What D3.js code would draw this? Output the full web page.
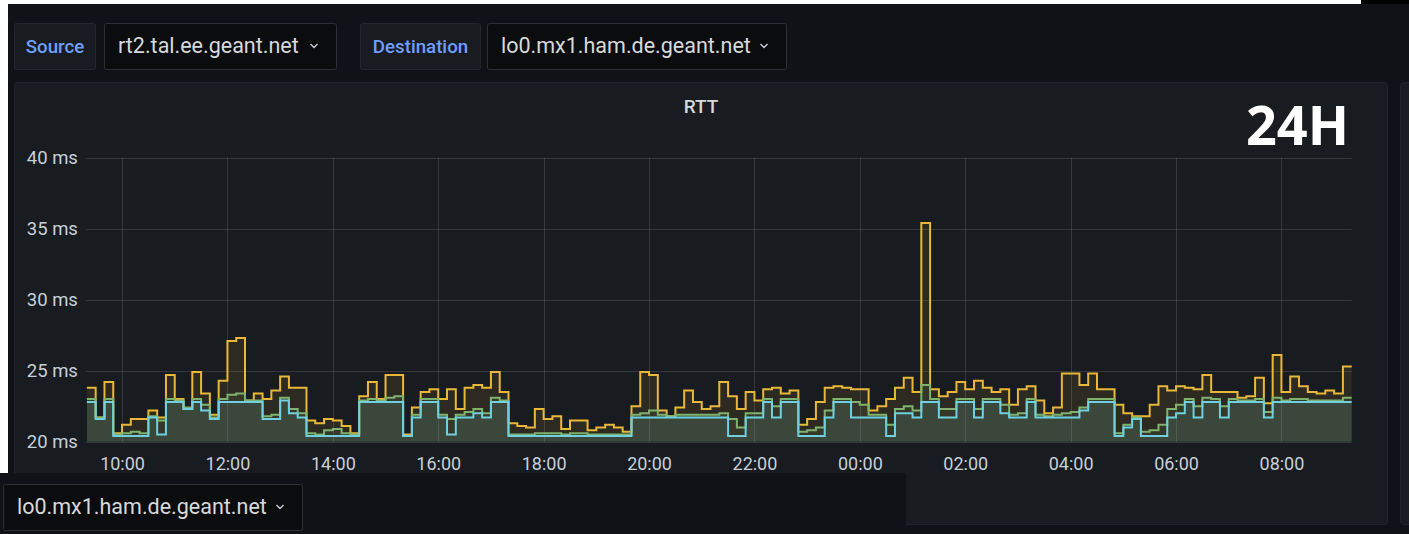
<!DOCTYPE html>
<html>
<head>
<meta charset="utf-8">
<script src="https://cdnjs.cloudflare.com/ajax/libs/d3/7.8.5/d3.min.js"></script>
<style>
  body { margin: 0; background: #111217; overflow: hidden; }
  svg { display: block; font-family: Roboto, "Noto Sans", sans-serif; }
</style>
</head>
<body>
<div id="chart"></div>
<script>
// Variable pickers shown above the panel.
var sourceHost = "rt2.tal.ee.geant.net";
var destHost = "lo0.mx1.ham.de.geant.net";
var panelTitle = "RTT";
var rangeLabel = "24H";

// Time axis: one sample every 10 minutes, 24 hours.
var startTime = Date.UTC(2021, 5, 1, 9, 20);
var stepMinutes = 10;

// Y ticks in ms.
var yTicks = [20, 25, 30, 35, 40];

// RTT series (ms), one value per 10 minute bin.
var rttMax = [
  23.8,21.7,24.2,20.6,21.2,21.6,21.6,22.2,21.7,24.7,23.0,22.3,24.9,23.4,21.9,24.3,27.1,27.3,22.9,23.4,23.0,23.6,24.6,23.8,
  23.8,21.5,21.3,21.6,21.5,21.1,20.6,23.2,24.2,23.0,24.7,24.7,20.5,22.4,23.5,23.7,23.0,23.7,22.3,23.8,24.0,23.8,24.9,23.5,
  21.3,21.1,21.0,22.3,21.6,21.8,20.9,21.5,21.5,20.8,21.0,21.2,21.0,20.7,22.5,24.9,24.7,22.2,21.8,22.4,23.6,22.8,22.3,22.5,
  24.2,23.2,22.3,23.5,22.9,23.7,23.8,23.4,23.6,21.2,21.6,22.8,23.8,23.9,23.8,23.7,23.7,22.2,22.5,23.0,23.8,24.5,23.5,35.4,
  23.7,23.2,23.5,24.2,23.7,24.3,23.8,23.5,23.7,22.6,23.7,23.9,22.9,22.0,22.4,24.8,24.8,24.0,24.8,23.7,23.7,22.6,22.0,21.8,
  21.8,22.6,23.9,23.6,23.9,23.8,23.7,24.7,23.5,23.5,23.5,23.1,23.2,24.5,22.7,26.1,23.5,24.6,23.9,23.5,23.4,23.6,23.4,25.3
];
var rttAvg = [
  23.0,21.7,23.0,20.5,20.6,20.7,20.6,21.8,21.5,23.0,22.9,22.4,23.0,22.6,21.7,23.0,23.3,23.4,22.9,22.9,21.8,21.9,23.1,22.3,
  22.0,20.6,20.5,20.8,20.9,20.6,20.5,22.9,23.0,22.9,23.1,23.2,20.4,21.9,23.0,23.0,21.9,21.6,21.9,22.1,22.3,22.0,23.1,22.9,
  20.5,20.5,20.5,20.6,20.6,20.6,20.5,20.6,20.6,20.5,20.5,20.5,20.5,20.5,21.9,22.0,22.2,21.9,21.8,21.9,21.9,21.9,21.9,21.9,
  22.0,21.6,21.0,22.0,22.0,23.0,22.5,23.0,23.0,20.7,20.8,21.0,22.2,23.0,23.0,22.8,22.6,21.9,21.9,21.2,22.3,22.5,22.2,24.0,
  23.0,22.3,22.3,23.0,23.0,22.3,23.0,23.0,22.6,21.9,22.0,23.0,21.9,21.8,21.9,22.0,22.1,22.4,23.0,23.0,23.0,20.6,21.2,21.7,
  20.7,20.8,21.2,22.3,22.6,23.0,22.5,23.1,23.0,22.5,23.0,22.9,22.9,23.0,22.1,23.1,22.9,23.0,23.0,22.9,22.9,22.9,22.9,23.1
];
var rttMin = [
  22.8,21.6,22.8,20.4,20.4,20.4,20.4,21.7,20.5,22.8,22.8,22.3,22.8,22.2,21.6,22.8,22.8,22.8,22.8,22.8,21.6,21.6,22.9,22.0,
  21.7,20.4,20.4,20.4,20.4,20.4,20.4,22.8,22.8,22.8,22.8,22.8,20.4,21.7,22.8,22.8,21.7,20.5,21.7,21.7,22.0,21.7,22.8,22.8,
  20.4,20.4,20.4,20.4,20.4,20.4,20.4,20.4,20.4,20.4,20.4,20.4,20.4,20.4,21.7,21.7,21.7,21.7,21.7,21.7,21.7,21.7,21.7,21.7,
  21.7,20.4,20.4,21.7,21.7,22.8,21.7,22.8,22.8,20.4,20.4,20.4,21.7,22.8,22.8,21.7,21.7,21.7,21.7,20.4,22.0,22.0,21.7,22.8,
  22.8,21.7,21.7,22.8,22.8,21.7,22.8,22.8,22.0,21.7,21.7,22.8,21.7,21.7,21.7,21.7,21.7,22.2,22.8,22.8,22.8,20.4,21.0,21.6,
  20.4,20.4,20.4,21.7,22.0,22.8,21.7,22.8,22.8,21.7,22.8,22.8,22.8,22.8,21.7,22.8,22.8,22.8,22.8,22.8,22.8,22.8,22.8,22.8
];

var seriesColors = { max: "#EAB839", avg: "#7EB26D", min: "#6ED0E0" };

var W = 1409, H = 534;
var plot = { left: 86.9, right: 1351.7, top: 157.7, bottom: 441.7 };

var svg = d3.select("#chart").append("svg")
    .attr("width", W)
    .attr("height", H);

// Page background and screenshot edges.
svg.append("rect").attr("width", W).attr("height", H).attr("fill", "#111217");
svg.append("rect").attr("x", 0).attr("y", 0).attr("width", 1361).attr("height", 4).attr("fill", "#ffffff");
svg.append("rect").attr("x", 1361).attr("y", 0).attr("width", 48).attr("height", 4).attr("fill", "#000000");
svg.append("rect").attr("x", 0).attr("y", 0).attr("width", 8).attr("height", 473).attr("fill", "#ffffff");

// Variable picker row.
function chevron(g, x, y) {
  g.append("path")
    .attr("d", "M" + (x - 3.5) + "," + (y - 2) + " L" + x + "," + (y + 1.5) + " L" + (x + 3.5) + "," + (y - 2))
    .attr("fill", "none")
    .attr("stroke", "#ccccdc")
    .attr("stroke-width", 1.4);
}
function labelBox(x, w, text) {
  var g = svg.append("g");
  g.append("rect").attr("x", x + 0.5).attr("y", 23.5).attr("width", w).attr("height", 46)
    .attr("rx", 2).attr("fill", "#181b1f").attr("stroke", "#24272d");
  g.append("text").attr("x", x + w / 2 + 0.5).attr("y", 52.5).attr("text-anchor", "middle")
    .attr("fill", "#6e9fff").attr("font-size", 18.7).attr("font-weight", 500).text(text);
}
function valueBox(x, y, w, text) {
  var g = svg.append("g");
  g.append("rect").attr("x", x + 0.5).attr("y", y + 0.5).attr("width", w).attr("height", 46)
    .attr("rx", 2).attr("fill", "#0b0c0e").attr("stroke", "#2c3036");
  g.append("text").attr("x", x + 14).attr("y", y + 30).attr("fill", "#d8d9da")
    .attr("font-size", 21.5).text(text);
  chevron(g, x + w - 22, y + 23);
}
labelBox(14, 81, "Source");
valueBox(104, 23, 232, sourceHost);
labelBox(360, 120, "Destination");
valueBox(487, 23, 299, destHost);

// Panels.
svg.append("rect").attr("x", 14.5).attr("y", 82.5).attr("width", 1373).attr("height", 442)
    .attr("rx", 3).attr("fill", "#181b1f").attr("stroke", "#202329");
svg.append("rect").attr("x", 1400.5).attr("y", 82.5).attr("width", 30).attr("height", 442)
    .attr("rx", 3).attr("fill", "#181b1f").attr("stroke", "#202329");

svg.append("text").attr("x", 701).attr("y", 113).attr("text-anchor", "middle")
    .attr("fill", "#d8d9da").attr("font-size", 19).attr("font-weight", 500).text(panelTitle);

// Scales.
var times = rttMax.map(function(d, i) { return new Date(startTime + i * stepMinutes * 60000); });
var endTime = new Date(startTime + rttMax.length * stepMinutes * 60000);

var xScale = d3.scaleUtc().domain([new Date(startTime), endTime]).range([plot.left, plot.right]);
var yScale = d3.scaleLinear().domain([20, 40]).range([plot.bottom, plot.top]);

// Grid.
var grid = svg.append("g").attr("stroke", "rgba(204,204,220,0.16)").attr("stroke-width", 1);
grid.selectAll("line.h").data(yTicks).enter().append("line")
    .attr("x1", plot.left - 1).attr("x2", plot.right)
    .attr("y1", function(d) { return Math.round(yScale(d)) + 0.5; })
    .attr("y2", function(d) { return Math.round(yScale(d)) + 0.5; });
var xTicks = xScale.ticks(d3.utcHour.every(2));
grid.selectAll("line.v").data(xTicks).enter().append("line")
    .attr("x1", function(d) { return Math.round(xScale(d)) + 0.5; })
    .attr("x2", function(d) { return Math.round(xScale(d)) + 0.5; })
    .attr("y1", plot.top).attr("y2", plot.bottom);

// Axis labels.
var yAxis = d3.axisLeft(yScale).tickValues(yTicks).tickSize(0).tickPadding(9)
    .tickFormat(function(d) { return d + " ms"; });
var yg = svg.append("g").attr("transform", "translate(" + plot.left + ",0)").call(yAxis);
var xAxis = d3.axisBottom(xScale).tickValues(xTicks).tickSize(0).tickPadding(16)
    .tickFormat(d3.utcFormat("%H:%M"));
var xg = svg.append("g").attr("transform", "translate(0," + plot.bottom + ")").call(xAxis);
[yg, xg].forEach(function(g) {
  g.select(".domain").remove();
  g.selectAll("text").attr("fill", "#c7d0d9")
    .attr("font-family", "Roboto, sans-serif");
});
yg.selectAll("text").attr("font-size", 18.5);
xg.selectAll("text").attr("font-size", 18);

// Series: fill to bottom at 10% like Grafana, then step lines.
function points(values) {
  var pts = values.map(function(v, i) { return [times[i], v]; });
  pts.push([endTime, values[values.length - 1]]);
  return pts;
}
var area = d3.area().curve(d3.curveStepAfter)
    .x(function(d) { return xScale(d[0]); })
    .y0(plot.bottom)
    .y1(function(d) { return yScale(d[1]); });
var line = d3.line().curve(d3.curveStepAfter)
    .x(function(d) { return xScale(d[0]); })
    .y(function(d) { return yScale(d[1]); });

var series = [
  { key: "max", values: rttMax },
  { key: "avg", values: rttAvg },
  { key: "min", values: rttMin }
];
series.forEach(function(s) {
  svg.append("path").datum(points(s.values))
      .attr("d", area)
      .attr("fill", seriesColors[s.key])
      .attr("fill-opacity", 0.1);
});
series.forEach(function(s) {
  svg.append("path").datum(points(s.values))
      .attr("d", line)
      .attr("fill", "none")
      .attr("stroke", seriesColors[s.key])
      .attr("stroke-width", 2)
      .attr("stroke-linejoin", "miter");
});

// Range label.
svg.append("text").attr("x", 1349).attr("y", 145).attr("text-anchor", "end")
    .attr("fill", "#ffffff").attr("font-size", 54).attr("font-weight", 700)
    .attr("font-family", "'Open Sans', sans-serif").text(rangeLabel);

// Overlapping picker at the bottom of the screenshot.
svg.append("rect").attr("x", 0).attr("y", 473).attr("width", 906).attr("height", 61).attr("fill", "#111217");
valueBox(3, 484, 299, destHost);
</script>
</body>
</html>
